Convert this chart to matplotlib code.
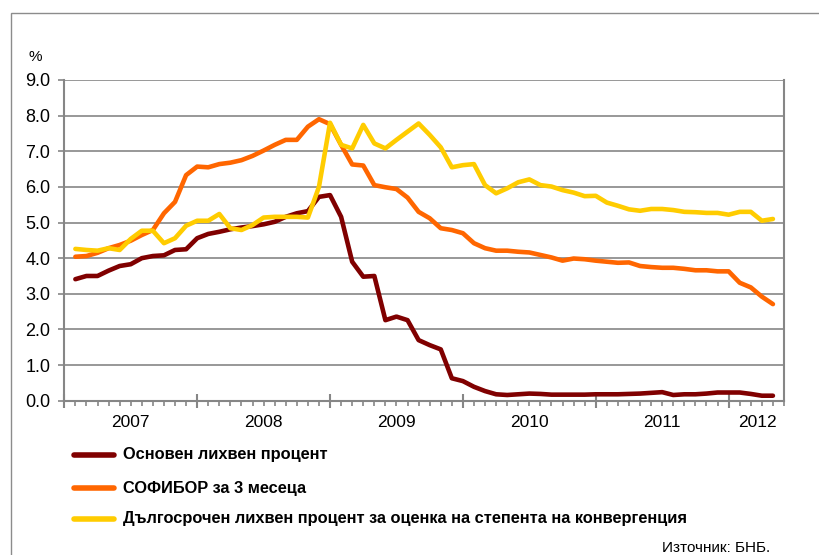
import matplotlib
matplotlib.use("Agg")
import matplotlib.pyplot as plt
from matplotlib.lines import Line2D
from matplotlib.patches import Rectangle
from matplotlib.ticker import MultipleLocator, FixedLocator
import numpy as np

plt.rcParams['font.family'] = ['Liberation Sans', 'DejaVu Sans']

# Monthly observations, Jan 2007 .. Apr 2012
base_rate = [3.41, 3.50, 3.50, 3.65, 3.78, 3.83, 4.00, 4.06, 4.08, 4.23, 4.25, 4.56,
             4.68, 4.74, 4.81, 4.86, 4.90, 4.95, 5.02, 5.16, 5.26, 5.32, 5.72, 5.77,
             5.16, 3.90, 3.48, 3.50, 2.26, 2.36, 2.26, 1.70, 1.56, 1.44, 0.63, 0.55,
             0.39, 0.27, 0.18, 0.16, 0.18, 0.20, 0.19, 0.17, 0.17, 0.17, 0.17, 0.18,
             0.18, 0.18, 0.19, 0.20, 0.22, 0.24, 0.16, 0.18, 0.18, 0.20, 0.23, 0.23,
             0.23, 0.19, 0.14, 0.14]
sofibor = [4.04, 4.06, 4.15, 4.28, 4.37, 4.49, 4.65, 4.79, 5.26, 5.58, 6.33, 6.57,
           6.55, 6.64, 6.68, 6.75, 6.87, 7.02, 7.18, 7.32, 7.32, 7.69, 7.90, 7.76,
           7.18, 6.63, 6.60, 6.05, 5.99, 5.94, 5.70, 5.30, 5.12, 4.84, 4.79, 4.70,
           4.42, 4.28, 4.21, 4.21, 4.18, 4.16, 4.09, 4.02, 3.93, 3.99, 3.97, 3.93,
           3.90, 3.87, 3.88, 3.78, 3.75, 3.73, 3.73, 3.70, 3.66, 3.66, 3.63, 3.63,
           3.31, 3.18, 2.92, 2.71]
long_term = [4.26, 4.23, 4.21, 4.28, 4.23, 4.54, 4.77, 4.77, 4.42, 4.56, 4.91, 5.05,
             5.05, 5.24, 4.84, 4.79, 4.93, 5.14, 5.16, 5.16, 5.16, 5.14, 6.00, 7.80,
             7.18, 7.08, 7.74, 7.22, 7.08, 7.32, 7.55, 7.78, 7.46, 7.11, 6.55, 6.61,
             6.64, 6.05, 5.82, 5.96, 6.13, 6.21, 6.05, 6.01, 5.91, 5.84, 5.74, 5.75,
             5.56, 5.47, 5.37, 5.33, 5.38, 5.38, 5.35, 5.30, 5.29, 5.27, 5.27, 5.22,
             5.30, 5.30, 5.05, 5.10]

series_names = ["Основен лихвен процент",
                "СОФИБОР за 3 месеца",
                "Дългосрочен лихвен процент за оценка на степента на конвергенция"]
series_colors = ["#800000", "#FF6600", "#FFCC00"]
years = ["2007", "2008", "2009", "2010", "2011", "2012"]
y_ticks = [0, 1, 2, 3, 4, 5, 6, 7, 8, 9]
source_text = "Източник: БНБ."

W, H = 819, 555
fig = plt.figure(figsize=(W / 100, H / 100), dpi=100)
ax = fig.add_axes([64.3 / W, 1 - 400.7 / H, (784 - 64.3) / W, (400.7 - 80) / H])

n = len(base_rate)
x = np.arange(1, n + 1)
for vals, col in zip([base_rate, sofibor, long_term], series_colors):
    ax.plot(x, vals, color=col, lw=3.3, solid_capstyle='round', solid_joinstyle='round', zorder=3)

ax.set_xlim(0, n + 1)
ax.set_ylim(0, 9)
ax.set_yticks(y_ticks)
ax.set_yticklabels([f"{v:.1f}" for v in y_ticks], fontsize=13)
ax.yaxis.grid(True, color="#868686", lw=1.2)
ax.set_axisbelow(True)

grid_gray = "#868686"
for side in ["left", "right", "bottom"]:
    ax.spines[side].set_color(grid_gray)
    ax.spines[side].set_linewidth(1.5)
ax.spines["top"].set_visible(False)

ax.xaxis.set_major_locator(FixedLocator([0, 12, 24, 36, 48, 60]))
ax.xaxis.set_minor_locator(MultipleLocator(1))
ax.set_xticklabels([])
ax.tick_params(axis='x', which='major', direction='inout', length=10, width=1.5, color=grid_gray)
ax.tick_params(axis='x', which='minor', direction='out', length=3.5, width=1.2, color=grid_gray)
ax.tick_params(axis='y', which='major', direction='out', length=4, width=1.2, color=grid_gray, pad=6)

centers = [6, 18, 30, 42, 54, 62.6]
for c, lab in zip(centers, years):
    ax.text(c, -0.40, lab, ha='center', va='top', fontsize=12.5, transform=ax.transData)

fig.text(35 / W, 1 - 57 / H, "%", ha='center', va='center', fontsize=11)

# outer frame (left and top edges visible)
fig.add_artist(Rectangle((11 / W, -0.1), 1.2, (H - 13) / H + 0.1, transform=fig.transFigure,
                         fill=False, edgecolor="#8c8c8c", lw=1.0))

# legend
leg_y = [455, 488, 519]
for yy, name, col in zip(leg_y, series_names, series_colors):
    fig.add_artist(Line2D([74 / W, 114 / W], [1 - yy / H, 1 - yy / H], transform=fig.transFigure,
                          color=col, lw=4.0, solid_capstyle='round'))
    fig.text(123 / W, 1 - yy / H, name, ha='left', va='center', fontsize=11.75, fontweight='bold')

fig.text(770 / W, 1 - 548 / H, source_text, ha='right', va='center', fontsize=11)

fig.savefig("out.png", dpi=100)
